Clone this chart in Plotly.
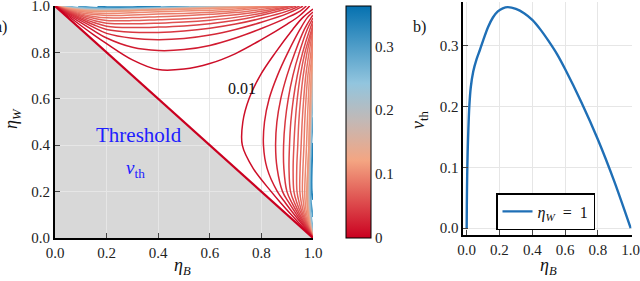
import plotly.graph_objects as go
from plotly.colors import sample_colorscale

# ---------------- data ----------------
# panel b: threshold along eta_W = 1
curve_eta_b = [0, 0.001, 0.003, 0.006, 0.01, 0.016, 0.025, 0.04, 0.06, 0.08, 0.1, 0.13, 0.16,
               0.19, 0.22, 0.25, 0.3, 0.35, 0.4, 0.45, 0.5, 0.55, 0.6, 0.7, 0.8, 0.9, 1.0]
curve_nu = [0, 0.04, 0.085, 0.125, 0.16, 0.2, 0.232, 0.258, 0.278, 0.293, 0.309, 0.331, 0.347,
            0.357, 0.362, 0.364, 0.361, 0.354, 0.343, 0.327, 0.308, 0.287, 0.262, 0.207, 0.146,
            0.077, 0]

# panel a: contour levels (upper family; right family is its mirror image)
low_levels = [0.01, 0.02, 0.03, 0.04, 0.05, 0.06, 0.07, 0.08, 0.09, 0.10, 0.11]
low_eta_b = [0, 0.05, 0.1, 0.15, 0.2, 0.3, 0.4, 0.5, 0.6, 0.7, 0.8, 0.9, 0.95]
low_eta_w = [
    [1, 0.958, 0.916, 0.876, 0.838, 0.768, 0.726, 0.728, 0.752, 0.795, 0.855, 0.922, 0.96],
    [1, 0.964, 0.928, 0.894, 0.862, 0.822, 0.808, 0.812, 0.83, 0.862, 0.903, 0.95, 0.978],
    [1, 0.968, 0.937, 0.908, 0.882, 0.861, 0.855, 0.86, 0.875, 0.899, 0.93, 0.967, 0.993],
    [1, 0.972, 0.944, 0.919, 0.899, 0.887, 0.886, 0.892, 0.904, 0.922, 0.947, 0.978],
    [1, 0.975, 0.95, 0.929, 0.913, 0.907, 0.909, 0.914, 0.924, 0.939, 0.96, 0.988],
    [1, 0.978, 0.956, 0.938, 0.926, 0.923, 0.926, 0.931, 0.939, 0.951, 0.969, 0.995],
    [1, 0.98, 0.961, 0.947, 0.938, 0.937, 0.941, 0.945, 0.952, 0.962, 0.977],
    [1, 0.982, 0.966, 0.955, 0.949, 0.95, 0.954, 0.958, 0.964, 0.972, 0.985],
    [1, 0.984, 0.971, 0.963, 0.959, 0.961, 0.965, 0.968, 0.973, 0.98, 0.992],
    [1, 0.986, 0.976, 0.97, 0.968, 0.971, 0.975, 0.978, 0.982, 0.987, 0.997],
    [1, 0.988, 0.981, 0.977, 0.976, 0.98, 0.984, 0.986, 0.989, 0.993],
]
low_end_b = [0.987, 0.974, 0.961, 0.948, 0.935, 0.922, 0.909, 0.896, 0.883, 0.869, 0.855]

high_levels = [0.14, 0.18, 0.22, 0.26, 0.30, 0.34]
high_eta_b = [
    [0, 0.05, 0.1, 0.15, 0.2, 0.3, 0.4, 0.5, 0.6, 0.7, 0.81],
    [0.011, 0.05, 0.1, 0.15, 0.2, 0.3, 0.4, 0.5, 0.6, 0.7, 0.745],
    [0.019, 0.05, 0.1, 0.15, 0.2, 0.3, 0.4, 0.5, 0.6, 0.677],
    [0.04, 0.1, 0.15, 0.2, 0.3, 0.4, 0.5, 0.603],
    [0.09, 0.15, 0.2, 0.3, 0.4, 0.52],
    [0.165, 0.2, 0.3, 0.41],
]
high_eta_w = [
    [1, 0.99, 0.983, 0.979, 0.978, 0.981, 0.985, 0.988, 0.991, 0.995, 1],
    [1, 0.991, 0.985, 0.982, 0.981, 0.983, 0.987, 0.99, 0.994, 0.998, 1],
    [1, 0.994, 0.988, 0.985, 0.984, 0.986, 0.989, 0.992, 0.996, 1],
    [1, 0.991, 0.988, 0.987, 0.988, 0.991, 0.994, 1],
    [1, 0.992, 0.99, 0.99, 0.993, 1],
    [1, 0.995, 0.995, 1],
]

threshold_b = [0, 1]
threshold_w = [1, 0]

ticks01 = [0, 0.2, 0.4, 0.6, 0.8, 1.0]
ticks01_text = ["0.0", "0.2", "0.4", "0.6", "0.8", "1.0"]
nu_ticks = [0, 0.1, 0.2, 0.3]
nu_ticks_text = ["0.0", "0.1", "0.2", "0.3"]
cbar_ticks = [0, 0.1, 0.2, 0.3]
cbar_ticks_text = ["0", "0.1", "0.2", "0.3"]
cmax = 0.363

# ---------------- style ----------------
W, H = 640, 281
FONT = "Liberation Serif"
cscale = [[0, "rgb(202,0,32)"], [1/3, "rgb(244,165,130)"], [0.5, "rgb(196,184,180)"],
          [2/3, "rgb(146,197,222)"], [1, "rgb(5,113,176)"]]


def lc(level):
    return sample_colorscale(cscale, [min(level / cmax, 1.0)])[0]


def px_x(p):
    return p / W


def px_y(p):
    return 1 - p / H


fig = go.Figure()

lines = []
for lev, wlist, end in zip(low_levels, low_eta_w, low_end_b):
    xs = low_eta_b[:len(wlist)] + [end]
    ys = wlist + [1.0]
    lines.append((lev, xs, ys, 1.5))
for lev, blist, wlist in zip(high_levels, high_eta_b, high_eta_w):
    lines.append((lev, blist, wlist, 2.0))

for lev, xs, ys, lw in sorted(lines, key=lambda t: -t[0]):
    for X, Y in ((xs, ys), (ys, xs)):
        fig.add_trace(go.Scatter(x=X, y=Y, mode="lines", xaxis="x", yaxis="y",
                                 line=dict(color=lc(lev), width=lw, shape="spline", smoothing=1.0),
                                 showlegend=False, hoverinfo="skip"))

fig.add_trace(go.Scatter(x=threshold_b, y=threshold_w, mode="lines", xaxis="x", yaxis="y",
                         line=dict(color=lc(0), width=2.2), showlegend=False, hoverinfo="skip"))

fig.add_trace(go.Scatter(x=[-1, -1], y=[-1, -1], mode="markers", xaxis="x", yaxis="y",
                         marker=dict(color=[0, cmax], colorscale=cscale, cmin=0, cmax=cmax, size=2,
                                     showscale=True,
                                     colorbar=dict(x=px_x(346), xanchor="left", xref="paper",
                                                   y=px_y(122), yanchor="middle", yref="paper",
                                                   len=232, lenmode="pixels", thickness=25,
                                                   xpad=0, ypad=0, outlinewidth=1, outlinecolor="black",
                                                   tickvals=cbar_ticks, ticktext=cbar_ticks_text,
                                                   ticks="", tickfont=dict(family=FONT, size=15, color="#222"))),
                         showlegend=False, hoverinfo="skip"))

fig.add_trace(go.Scatter(x=curve_eta_b, y=curve_nu, mode="lines", xaxis="x2", yaxis="y2",
                         line=dict(color="#1f6fb6", width=2.4, shape="spline", smoothing=0.8),
                         name="<i>η</i><sub><i>W</i></sub>\u2002=\u20021", showlegend=True))

tri_path = "M {},{} L {},{} L {},{} Z".format(threshold_b[0], 0, threshold_b[0], threshold_w[0],
                                              threshold_b[1], threshold_w[1])

axis_common = dict(showgrid=True, gridcolor="#e6e6e6", gridwidth=1, zeroline=False,
                   showline=True, linecolor="black", linewidth=2, ticks="inside", ticklen=5,
                   tickcolor="#444", tickwidth=1, automargin=False, ticklabeloverflow="allow",
                   tickfont=dict(family=FONT, size=15, color="#222"))

fig.update_layout(
    width=W, height=H, margin=dict(l=0, r=0, t=0, b=0, pad=0, autoexpand=False),
    autosize=False,
    paper_bgcolor="white", plot_bgcolor="white",
    xaxis=dict(domain=[px_x(55), px_x(313)], range=[0, 1], anchor="y",
               tickvals=ticks01, ticktext=ticks01_text, **axis_common),
    yaxis=dict(domain=[px_y(238), px_y(6)], range=[0, 1], anchor="x",
               tickvals=ticks01, ticktext=ticks01_text, **axis_common),
    xaxis2=dict(domain=[px_x(463.4), px_x(631.5)], range=[-0.02, 1.005], anchor="y2",
                tickvals=ticks01, ticktext=ticks01_text, **axis_common),
    yaxis2=dict(domain=[px_y(234.7), px_y(1.7)], range=[-0.011, 0.373], anchor="x2",
                tickvals=nu_ticks, ticktext=nu_ticks_text, **axis_common),
    shapes=[dict(type="path", path=tri_path, xref="x", yref="y", fillcolor="#d8d8d8",
                 line=dict(width=0), layer="below")],
    legend=dict(x=px_x(496), y=px_y(230), xanchor="left", yanchor="bottom",
                bordercolor="black", borderwidth=1.5, bgcolor="white",
                font=dict(family=FONT, size=16, color="#111"), itemwidth=30,
                tracegroupgap=0),
    showlegend=True,
)


def A(x, y, text, size, color="#111", data=False, angle=0, xa="center"):
    xr, yr = ("x", "y") if data else ("paper", "paper")
    return dict(x=x, y=y, xref=xr, yref=yr, text=text, showarrow=False, textangle=angle,
                xanchor=xa, yanchor="middle", font=dict(family=FONT, size=size, color=color))


ann = [
    A(0.725, 0.645, "0.01", 16, data=True),
    A(0.325, 0.445, "Threshold", 21, color="#2020ff", data=True),
    A(0.312, 0.297, "<i>ν</i><sub>th</sub>", 19, color="#2020ff", data=True),
    A(px_x(182), px_y(266), "<i>η</i><sub><i>B</i></sub>", 18),
    A(px_x(12), px_y(119), "<i>η</i><sub><i>W</i></sub>", 18, angle=-90),
    A(px_x(548), px_y(266), "<i>η</i><sub><i>B</i></sub>", 18),
    A(px_x(420), px_y(120), "<i>ν</i><sub>th</sub>", 18, angle=-90),
    A(px_x(9), px_y(27), "a)", 16, xa="right"),
    A(px_x(419), px_y(27), "b)", 16),
]
fig.update_layout(annotations=ann)

fig.write_html("out.html", config={"displayModeBar": False},
               post_script="document.body.style.margin='0';document.body.style.overflow='hidden';")
